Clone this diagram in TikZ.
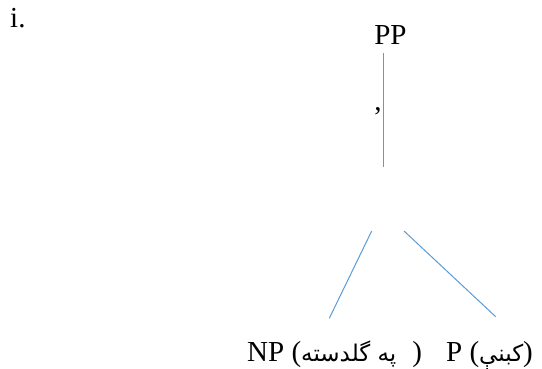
\documentclass[tikz,border=0pt]{standalone}
\usepackage{fontspec}
\setmainfont{Liberation Serif}
\newfontfamily\arabicfont[Script=Arabic]{DejaVu Sans}
\TeXXeTstate=1
\usetikzlibrary{positioning}
\definecolor{treeline}{HTML}{5B9BD5}
\tikzset{
  lbl/.style={inner sep=0pt, font=\fontsize{29}{34}\selectfont},
  branch/.style={draw=treeline, line width=1pt}
}
\newcommand{\pashto}[1]{{\arabicfont\fontsize{23}{28}\selectfont\beginR #1\endR}}

\begin{document}
\begin{tikzpicture}[x=1pt,y=-1pt]
  \useasboundingbox (0,0) rectangle (542,369);
  \node[lbl, anchor=base west] (num) at (10,28) {i.};
  \node[lbl, anchor=base] (pp) at (390.5,45) {PP};
  \node[lbl] (tick) at (378,111) {,};
  % tree lines
  \coordinate (vtop) at (383.3,53);
  \coordinate (vbot) at (383.3,167);
  \coordinate (ltop) at (371.7,231);
  \coordinate (rtop) at (404,231);
  \node[lbl, anchor=base west] (np) at (247,361.7)
    {NP (\pashto{په گلدسته}\hspace{16pt})};
  \node[lbl, anchor=base west] (p) at (446,361.7)
    {P (\pashto{کبنې})};
  \coordinate (lbot) at (329.3,318.3);
  \coordinate (rbot) at (495.7,316.7);
  \draw[branch] (vtop) -- (vbot);
  \draw[branch] (ltop) -- (lbot);
  \draw[branch] (rtop) -- (rbot);
\end{tikzpicture}
\end{document}
